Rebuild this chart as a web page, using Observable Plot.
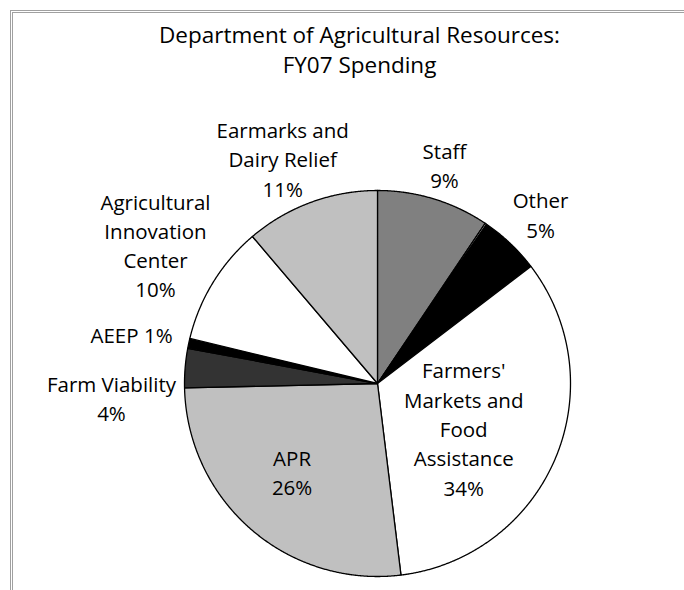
<!DOCTYPE html>
<html>
<head>
<meta charset="utf-8">
<script src="https://cdn.jsdelivr.net/npm/d3@7"></script>
<script src="https://cdn.jsdelivr.net/npm/@observablehq/plot@0.6"></script>
<style>
  html, body { margin: 0; background: #fff; overflow: hidden; }
  #wrap { position: relative; width: 684px; height: 590px; overflow: hidden; }
  #frame { position: absolute; left: 10px; top: 10px; width: 1000px; height: 1000px;
           border-top: 3px double #a0a0a0; border-left: 3px double #a0a0a0; pointer-events: none; }
  #wrap svg { position: absolute; left: 0; top: 0; }
  g[aria-label="slice labels"] text { letter-spacing: 0.6px; }
  g[aria-label="title"] text { letter-spacing: 0.85px; }
</style>
</head>
<body>
<div id="wrap"><div id="frame"></div></div>
<script>
// ---- data ----
const title = "Department of Agricultural Resources:\nFY07 Spending";
const categories = ["Staff", "(sliver)", "Other", "Farmers' Markets and Food Assistance", "APR",
                    "Farm Viability", "AEEP", "Agricultural Innovation Center", "Earmarks and Dairy Relief"];
const shares = [9.42, 0.14, 5.06, 33.44, 26.58, 3.28, 0.83, 10.03, 11.22];   // slice sizes
const labelNames = ["Staff\n", "", "Other\n", "Farmers'\nMarkets and\nFood\nAssistance\n", "APR\n",
                    "Farm Viability\n", "AEEP ", "Agricultural\nInnovation\nCenter\n", "Earmarks and\nDairy Relief\n"];
const pctLabels = ["9%", "", "5%", "34%", "26%", "4%", "1%", "10%", "11%"];
const sliceFills = ["#808080", "#ffffff", "#000000", "#ffffff", "#c0c0c0", "#333333", "#000000", "#ffffff", "#c0c0c0"];

// ---- label layout (radius as fraction of pie radius, angle shift in degrees from slice middle) ----
const labelRadius = [1.173, 0, 1.209, 0.509, 0.644, 1.381, 1.297, 1.35, 1.253];
const labelShift  = [0.25, 0, 0.8, 5.8, 2.55, -8.15, -1.3, 0, -2.9];

// ---- geometry ----
const arcs = d3.pie().sort(null).value(d => d)(shares);
const points = [];
arcs.forEach((a, i) => {
  points.push({slice: i, fill: sliceFills[i], x: 0, y: 0});
  const n = Math.max(2, Math.ceil((a.endAngle - a.startAngle) / (Math.PI / 720)));
  for (let k = 0; k <= n; ++k) {
    const t = a.startAngle + (a.endAngle - a.startAngle) * k / n;
    points.push({slice: i, fill: sliceFills[i], x: Math.sin(t), y: Math.cos(t)});
  }
  points.push({slice: i, fill: sliceFills[i], x: 0, y: 0});
});
const labels = arcs.map((a, i) => {
  const m = (a.startAngle + a.endAngle) / 2 + labelShift[i] * Math.PI / 180;
  return {x: labelRadius[i] * Math.sin(m), y: labelRadius[i] * Math.cos(m), text: labelNames[i] + pctLabels[i]};
}).filter(d => d.text !== "");

const chart = Plot.plot({
  width: 684,
  height: 590,
  margin: 0,
  x: {domain: [-1, 1], range: [184, 570], axis: null},
  y: {domain: [-1, 1], range: [576, 190], axis: null},
  color: {type: "identity"},
  style: {fontFamily: "'Open Sans', sans-serif", background: "transparent", color: "#000"},
  marks: [
    Plot.line(points, {x: "x", y: "y", z: "slice", fill: "fill", stroke: "#000", strokeWidth: 1.3, strokeLinejoin: "round"}),
    Plot.text(labels, {x: "x", y: "y", text: "text", fontSize: 20.5, lineHeight: 1.43, dy: -3, fill: "#000", ariaLabel: "slice labels"}),
    Plot.text([title], {frameAnchor: "top", lineAnchor: "middle", dx: 17, dy: 48, fontSize: 22.5, lineHeight: 1.34, fill: "#000", ariaLabel: "title"})
  ]
});
document.getElementById("wrap").prepend(chart);
</script>
</body>
</html>
